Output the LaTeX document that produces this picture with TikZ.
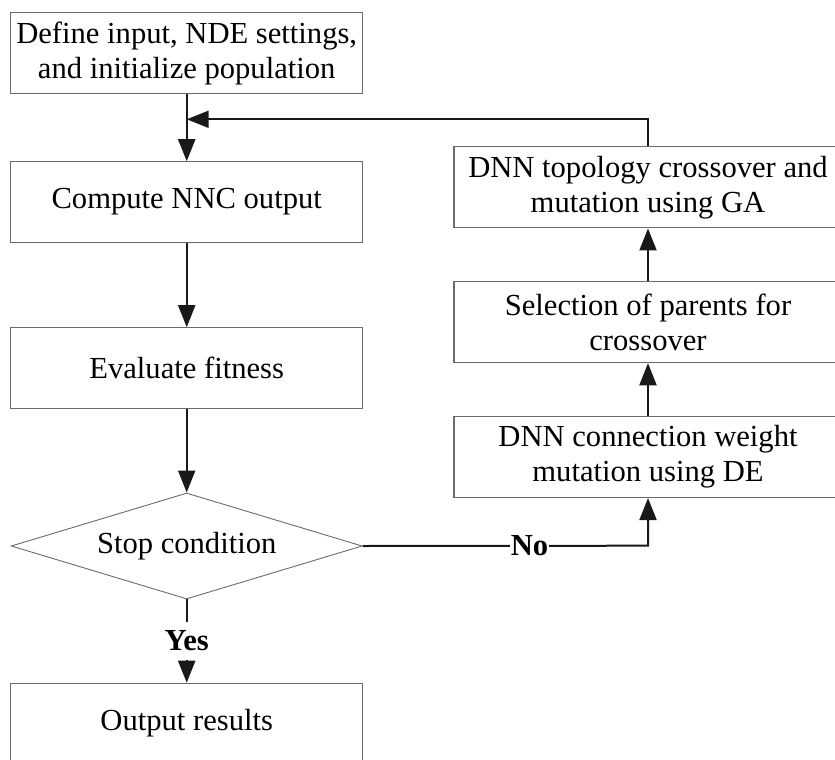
\documentclass[tikz,border=0pt]{standalone}
\usepackage{fontspec}
\setmainfont{Liberation Serif}
\usetikzlibrary{arrows.meta,shapes.geometric}
\begin{document}
\begin{tikzpicture}[x=1pt,y=-1pt,
  every node/.style={font=\fontsize{30.6}{35}\selectfont},
  boxL/.style={draw=black!58,line width=1.1pt,rectangle,minimum width=352pt,minimum height=80.5pt,inner sep=0pt,align=center},
  boxR/.style={draw=black!58,line width=1.1pt,rectangle,minimum width=388pt,minimum height=81pt,inner sep=0pt,align=center},
  dec/.style={draw=black!58,line width=0.9pt,diamond,aspect=3.31,minimum width=351pt,minimum height=106pt,inner sep=0pt},
  conn/.style={draw=black!90,line width=2pt},
  arr/.style={conn,-{Triangle[length=22pt,width=17pt]}},
  lbl/.style={fill=white,font=\fontsize{30.6}{35}\selectfont\bfseries,inner xsep=1pt,inner ysep=9pt}
]
\useasboundingbox (0,0) rectangle (835,760);
\begin{scope}
\clip (0,0) rectangle (835,760);
\node[boxL] (b1) at (186.7,53) {Define input, NDE settings,\\and initialize population};
\node[boxL] (b2) at (186.7,202) {Compute NNC output};
\node[boxL] (b3) at (186.7,368) {Evaluate fitness};
\node[dec] (d) at (186.7,546) {Stop condition};
\node[boxL] (b5) at (186.7,723.5) {Output results};
\node[boxR] (r1) at (648,187.4) {DNN topology crossover and\\mutation using GA};
\node[boxR] (r2) at (648,322.2) {Selection of parents for\\crossover};
\node[boxR] (r3) at (648,457) {DNN connection weight\\mutation using DE};
\end{scope}
\coordinate (join) at (186.7,119.3);
\coordinate (nocorner) at (648,545.7);
\draw[arr] (b1.south) -- (b2.north);
\draw[arr] (r1.north) |- (join);
\draw[arr] (b2.south) -- (b3.north);
\draw[arr] (b3.south) -- (d.north);
\draw[arr] (d.south) -- node[lbl,pos=0.5] {Yes} (b5.north);
\draw[arr] (d.east) -- node[lbl,pos=0.585] {No} (nocorner) -- (r3.south);
\draw[arr] (r3.north) -- (r2.south);
\draw[arr] (r2.north) -- (r1.south);
\end{tikzpicture}
\end{document}
